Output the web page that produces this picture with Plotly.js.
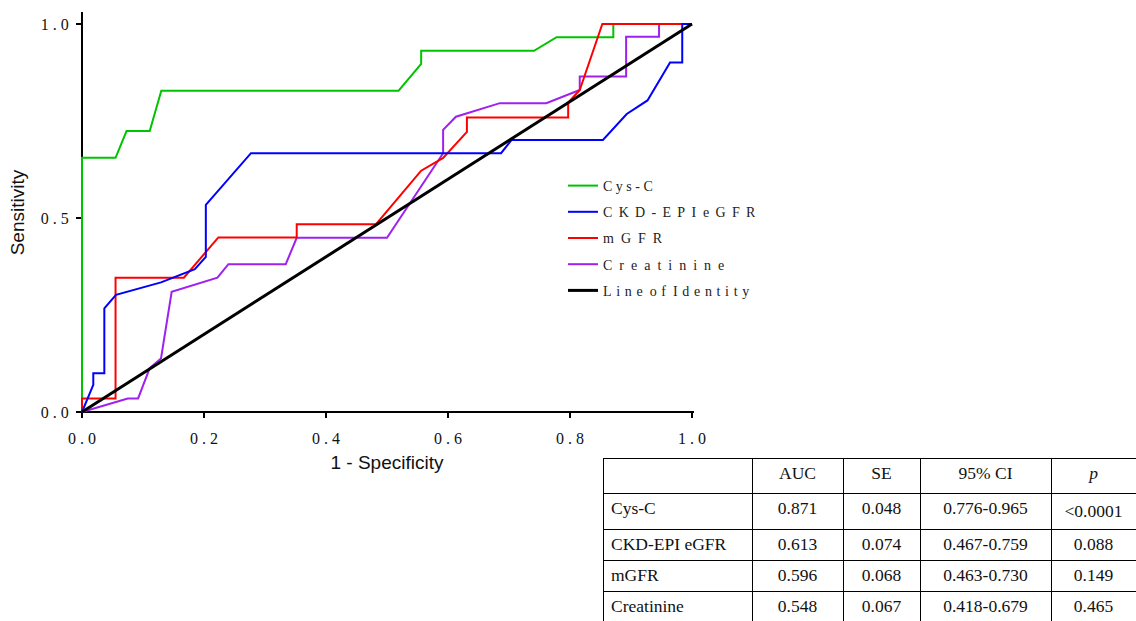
<!DOCTYPE html>
<html>
<head>
<meta charset="utf-8">
<script src="https://cdn.plot.ly/plotly-3.0.1.min.js"></script>
<style>html,body{margin:0;padding:0;background:#fff;}</style>
</head>
<body>
<div id="chart" style="width:1136px;height:621px;"></div>
<script>
// ---- Data ----
const seriesNames = [
  "C y s - C",
  "C\u2009 K\u2009 D\u2009 -\u2009 E\u2009 P\u2009 I \u00a0e\u2009 G\u2009 F\u2009 R",
  "m \u00a0G \u00a0F \u00a0R",
  "C \u00a0r \u00a0e \u00a0a \u00a0t \u00a0i \u00a0n \u00a0i \u00a0n \u00a0e",
  "L\u200a i\u200a n\u200a e \u00a0o\u200a f \u00a0I\u200a d\u200a e\u200a n\u200a t\u200a i\u200a t\u200a y"
];

const cysX = [0, 0, 0.055, 0.073, 0.111, 0.130, 0.519, 0.556, 0.556, 0.741, 0.778, 0.871, 0.871, 1.0];
const cysY = [0, 0.655, 0.655, 0.724, 0.724, 0.828, 0.828, 0.897, 0.931, 0.931, 0.966, 0.966, 1.0, 1.0];

const ckdX = [0, 0.0185, 0.0185, 0.0366, 0.0366, 0.0557, 0.1295, 0.185, 0.203, 0.203, 0.277, 0.687, 0.704, 0.854, 0.893, 0.927, 0.964, 0.984, 0.984, 1.0];
const ckdY = [0, 0.070, 0.100, 0.100, 0.267, 0.302, 0.334, 0.368, 0.400, 0.534, 0.667, 0.667, 0.701, 0.701, 0.768, 0.803, 0.901, 0.901, 1.0, 1.0];

const mgfrX = [0, 0, 0.055, 0.055, 0.167, 0.2235, 0.352, 0.352, 0.482, 0.556, 0.592, 0.631, 0.631, 0.797, 0.797, 0.816, 0.853, 1.0];
const mgfrY = [0, 0.035, 0.035, 0.346, 0.346, 0.450, 0.450, 0.484, 0.484, 0.622, 0.655, 0.722, 0.759, 0.759, 0.797, 0.830, 1.0, 1.0];

const creaX = [0, 0.075, 0.092, 0.111, 0.1295, 0.147, 0.222, 0.240, 0.334, 0.352, 0.500, 0.592, 0.592, 0.613, 0.685, 0.761, 0.816, 0.816, 0.892, 0.892, 0.946, 0.946, 1.0];
const creaY = [0, 0.035, 0.035, 0.113, 0.138, 0.310, 0.346, 0.381, 0.381, 0.449, 0.449, 0.667, 0.727, 0.761, 0.796, 0.796, 0.830, 0.865, 0.865, 0.967, 0.967, 1.0, 1.0];

const identX = [0, 1];
const identY = [0, 1];

const xTickVals = [0, 0.2, 0.4, 0.6, 0.8, 1.0];
const xTickText = ["0 . 0", "0 . 2", "0 . 4", "0 . 6", "0 . 8", "1 . 0"];
const yTickVals = [0, 0.5, 1.0];
const yTickText = ["0 . 0", "0 . 5", "1 . 0"];

const tableHeader = ["", "AUC", "SE", "95% CI", "p"];
const tableRowNames = ["Cys-C", "CKD-EPI eGFR", "mGFR", "Creatinine"];
const tableAUC = ["0.871", "0.613", "0.596", "0.548"];
const tableSE = ["0.048", "0.074", "0.068", "0.067"];
const tableCI = ["0.776-0.965", "0.467-0.759", "0.463-0.730", "0.418-0.679"];
const tableP = ["&lt;0.0001", "0.088", "0.149", "0.465"];

// ---- Styling ----
const W = 1136, H = 621;
const colors = {cys: "#00c400", ckd: "#0000ff", mgfr: "#ff0000", crea: "#a020f0", ident: "#000000"};

function line(x, y, name, color, width, rank) {
  return {type: "scatter", mode: "lines", x: x, y: y, name: name,
    line: {color: color, width: width}, legendrank: rank, legendgroup: "g" + rank,
    hoverinfo: "skip"};
}

const serif = "Liberation Serif, Times New Roman, serif";

const traces = [
  line(cysX, cysY, seriesNames[0], colors.cys, 2, 1),
  line(creaX, creaY, seriesNames[3], colors.crea, 2, 4),
  line(mgfrX, mgfrY, seriesNames[2], colors.mgfr, 2, 3),
  line(ckdX, ckdY, seriesNames[1], colors.ckd, 2, 2),
  line(identX, identY, seriesNames[4], colors.ident, 3, 5),
  {
    type: "table",
    domain: {x: [603 / W, 1], y: [0, 1 - 458 / H]},
    columnwidth: [149, 91, 77, 131, 85],
    header: {
      values: tableHeader,
      align: ["left", "center", "center", "center", "center"],
      height: 35,
      line: {color: "#000", width: 1},
      fill: {color: "#fff"},
      font: {family: serif, size: 17.5, color: "#111",
             style: ["normal", "normal", "normal", "normal", "italic"]}
    },
    cells: {
      values: [tableRowNames, tableAUC, tableSE, tableCI, tableP],
      align: ["left", "center", "center", "center", "center"],
      height: 31,
      line: {color: "#000", width: 1},
      fill: {color: "#fff"},
      font: {family: serif, size: 17.5, color: "#111"}
    }
  }
];

const tickFont = {family: serif, size: 16, color: "#111"};
const titleFont = {family: "Liberation Sans, Arial, sans-serif", size: 19, color: "#111"};

// pixel geometry of plot: x 0->82px, 1->692px; y 0->412px, 1->24px
const xpx = 610, ypx = 388;
const xr = [-0.003, 1.003];
const yr = [-0.003, (412 - 12) / ypx];

const layout = {
  width: W, height: H,
  margin: {l: 0, r: 0, t: 0, b: 0},
  paper_bgcolor: "#fff", plot_bgcolor: "#fff",
  showlegend: true,
  xaxis: {
    domain: [(82 + xr[0] * xpx) / W, (82 + xr[1] * xpx) / W],
    range: xr, anchor: "free", position: 1 - 412 / H,
    showgrid: false, zeroline: false,
    showline: true, linecolor: "#000", linewidth: 2,
    ticks: "outside", ticklen: 5, tickwidth: 2, tickcolor: "#000",
    tickvals: xTickVals, ticktext: xTickText, tickfont: tickFont,
    ticklabelstandoff: 7,
    layer: "below traces",
    title: {text: "1 - Specificity", font: titleFont, standoff: 8}
  },
  yaxis: {
    domain: [1 - (412 - yr[0] * ypx) / H, 1 - (412 - yr[1] * ypx) / H],
    range: yr, anchor: "free", position: 82 / W,
    showgrid: false, zeroline: false,
    showline: true, linecolor: "#000", linewidth: 2,
    ticks: "outside", ticklen: 5, tickwidth: 2, tickcolor: "#000",
    tickvals: yTickVals, ticktext: yTickText, tickfont: tickFont,
    ticklabelstandoff: 4,
    layer: "below traces",
    title: {text: "Sensitivity", font: titleFont, standoff: 10}
  },
  legend: {
    x: 563 / W, y: 1 - 170 / H, xanchor: "left", yanchor: "top",
    bgcolor: "rgba(0,0,0,0)", borderwidth: 0,
    font: {family: serif, size: 14, color: "#222"},
    traceorder: "grouped", tracegroupgap: 5
  }
};

Plotly.newPlot("chart", traces, layout, {displayModeBar: false, staticPlot: true});
</script>
</body>
</html>
